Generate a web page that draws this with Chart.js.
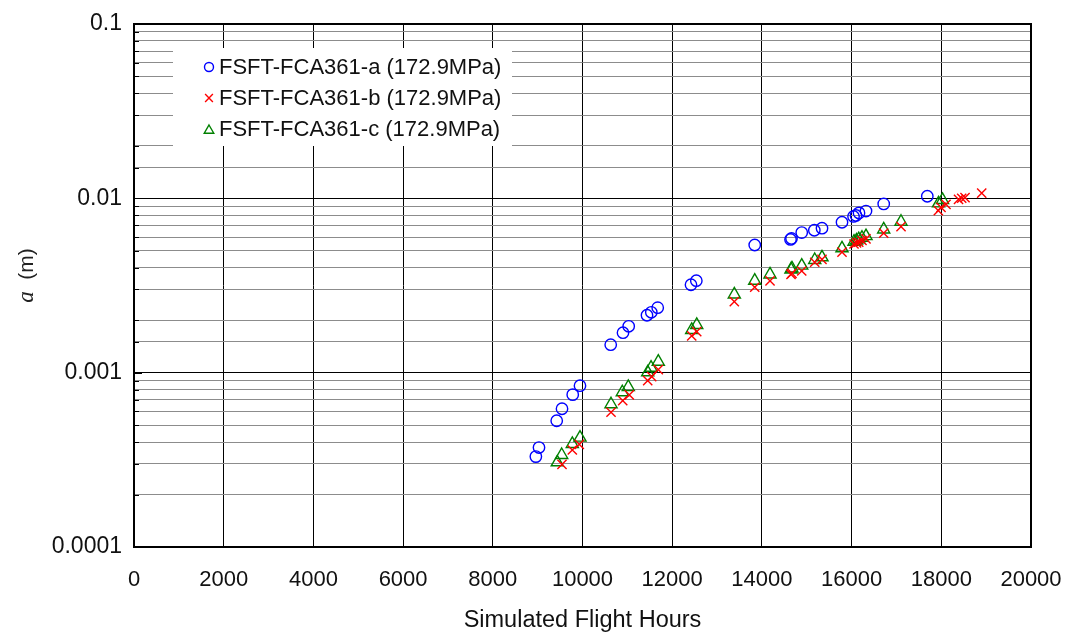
<!DOCTYPE html>
<html>
<head>
<meta charset="utf-8">
<script src="https://cdn.jsdelivr.net/npm/chart.js@4/dist/chart.umd.min.js"></script>
<style>
  html, body { margin: 0; padding: 0; background: #fff; }
  #wrap { width: 1066px; height: 635px; position: relative; }
</style>
</head>
<body>
<div id="wrap"><canvas id="c" width="1066" height="635"></canvas></div>
<script>
// ---- data ----
const seriesLabels = ['FSFT-FCA361-a (172.9MPa)', 'FSFT-FCA361-b (172.9MPa)', 'FSFT-FCA361-c (172.9MPa)'];

const hoursA = [8960, 9030, 9425, 9543, 9782, 9944, 10629, 10903, 11030, 11438, 11534, 11677,
  12419, 12538, 13840, 14638, 14660, 14888, 15169, 15340, 15786, 16043, 16098, 16165, 16321, 16716, 17688];
const crackA = [3.30e-4, 3.72e-4, 5.30e-4, 6.21e-4, 7.48e-4, 8.42e-4, 1.447e-3, 1.696e-3, 1.845e-3, 2.135e-3, 2.22e-3, 2.36e-3,
  3.194e-3, 3.37e-3, 5.40e-3, 5.81e-3, 5.89e-3, 6.36e-3, 6.56e-3, 6.74e-3, 7.29e-3, 7.87e-3, 7.98e-3, 8.25e-3, 8.45e-3, 9.29e-3, 1.028e-2];

const hoursB = [9543, 9773, 9929, 10636, 10897, 11044, 11454, 11543, 11690, 12435, 12547, 13385, 13840, 14181,
  14649, 14671, 14888, 15178, 15340, 15786, 16054, 16110, 16159, 16232, 16321, 16716, 17102,
  17934, 17994, 18105, 18384, 18455, 18529, 18901];
const crackB = [2.98e-4, 3.60e-4, 3.88e-4, 5.93e-4, 6.91e-4, 7.45e-4, 9.00e-4, 9.48e-4, 1.040e-3, 1.624e-3, 1.718e-3, 2.555e-3, 3.09e-3, 3.36e-3,
  3.66e-3, 3.71e-3, 3.83e-3, 4.30e-3, 4.47e-3, 4.91e-3, 5.47e-3, 5.55e-3, 5.60e-3, 5.73e-3, 5.85e-3, 6.31e-3, 6.88e-3,
  8.50e-3, 8.87e-3, 9.23e-3, 9.86e-3, 1.001e-2, 1.009e-2, 1.070e-2];

const hoursC = [9438, 9536, 9773, 9944, 10636, 10888, 11021, 11454, 11528, 11690, 12435, 12547, 13385, 13840, 14181,
  14649, 14671, 14888, 15178, 15340, 15786, 16054, 16110, 16159, 16232, 16321, 16716, 17102, 17938, 18027];
const crackC = [3.06e-4, 3.37e-4, 3.90e-4, 4.24e-4, 6.59e-4, 7.72e-4, 8.28e-4, 1.005e-3, 1.068e-3, 1.156e-3, 1.758e-3, 1.878e-3, 2.81e-3, 3.37e-3, 3.66e-3,
  3.91e-3, 3.96e-3, 4.11e-3, 4.43e-3, 4.59e-3, 5.17e-3, 5.64e-3, 5.73e-3, 5.83e-3, 5.94e-3, 6.07e-3, 6.63e-3, 7.34e-3, 9.35e-3, 9.79e-3];

const xTickLabels = ['0', '2000', '4000', '6000', '8000', '10000', '12000', '14000', '16000', '18000', '20000'];
const yTickValues = [0.0001, 0.001, 0.01, 0.1];
const yTickLabels = ['0.0001', '0.001', '0.01', '0.1'];
const xTitle = 'Simulated Flight Hours';

// ---- build ----
const FONT = "'Liberation Sans', Arial, sans-serif";
function pts(xs, ys) { return xs.map((x, i) => ({ x: x, y: ys[i] })); }
function isDecade(v) {
  const l = Math.log10(v);
  return Math.abs(l - Math.round(l)) < 1e-6;
}

const datasets = [
  { label: seriesLabels[0], data: pts(hoursA, crackA), pointStyle: 'circle', radius: 5.7,
    borderColor: '#0000ff', backgroundColor: 'rgba(0,0,0,0)', borderWidth: 1.4, legendRadius: 4.5 },
  { label: seriesLabels[1], data: pts(hoursB, crackB), pointStyle: 'crossRot', radius: 6.5,
    borderColor: '#ff0000', backgroundColor: 'rgba(0,0,0,0)', borderWidth: 1.4, legendRadius: 5.5 },
  { label: seriesLabels[2], data: pts(hoursC, crackC), pointStyle: 'triangle', radius: 7,
    borderColor: '#008000', backgroundColor: 'rgba(0,0,0,0)', borderWidth: 1.4, legendRadius: 5.5 }
].map(d => Object.assign(d, { showLine: false, pointRadius: d.radius, pointHoverRadius: d.radius,
  pointBorderWidth: d.borderWidth, pointBorderColor: d.borderColor, pointBackgroundColor: 'rgba(0,0,0,0)' }));

const framePlugin = {
  id: 'frame',
  afterDraw(chart) {
    const ctx = chart.ctx, a = chart.chartArea;
    const ys = chart.scales.y;
    ctx.save();
    ctx.strokeStyle = '#000';
    ctx.lineWidth = 1;
    ys.ticks.forEach(t => {
      const py = Math.round(ys.getPixelForValue(t.value)) + 0.5;
      const len = isDecade(t.value) ? 8 : 5;
      ctx.beginPath(); ctx.moveTo(a.left, py); ctx.lineTo(a.left + len, py); ctx.stroke();
    });
    ctx.lineWidth = 2;
    ctx.strokeRect(a.left, a.top, a.right - a.left, a.bottom - a.top);
    // y-axis title: italic serif "a" + " (m)"
    ctx.translate(27, (a.top + a.bottom) / 2 - 10);
    ctx.rotate(-Math.PI / 2);
    ctx.fillStyle = '#222';
    ctx.textBaseline = 'middle';
    const f1 = "italic 23px 'Liberation Serif', 'Times New Roman', serif";
    const f2 = "21px " + FONT;
    ctx.font = f1; const w1 = ctx.measureText('a').width;
    ctx.font = f2; const w2 = ctx.measureText('  (m)').width;
    let x0 = -(w1 + w2) / 2;
    ctx.font = f1; ctx.textAlign = 'left'; ctx.fillText('a', x0, 0);
    ctx.font = f2; ctx.fillText('  (m)', x0 + w1, 0);
    ctx.restore();
  },
  afterDatasetsDraw(chart) {
    const ctx = chart.ctx;
    ctx.save();
    ctx.fillStyle = '#fff';
    ctx.fillRect(173, 48, 339, 98);
    const rows = [67, 98, 129];
    chart.data.datasets.forEach((ds, i) => {
      const y = rows[i];
      ctx.lineWidth = 1.4;
      ctx.strokeStyle = ds.borderColor;
      ctx.fillStyle = 'rgba(0,0,0,0)';
      Chart.helpers.drawPoint(ctx, { pointStyle: ds.pointStyle, radius: ds.legendRadius, borderWidth: 1.4 }, 209, y + (ds.pointStyle === 'triangle' ? 1.5 : 0));
      ctx.fillStyle = '#111';
      ctx.font = "22px " + FONT;
      ctx.textAlign = 'left';
      ctx.textBaseline = 'middle';
      ctx.fillText(ds.label, 219, y + 1);
    });
    ctx.restore();
  }
};

new Chart(document.getElementById('c'), {
  type: 'scatter',
  data: { datasets: datasets },
  options: {
    responsive: false,
    animation: false,
    devicePixelRatio: 1,
    layout: { padding: { left: 0, right: 35, top: 24, bottom: 0 } },
    plugins: { legend: { display: false }, tooltip: { enabled: false } },
    scales: {
      x: {
        type: 'linear', min: 0, max: 20000,
        afterFit: s => { s.height = 88; s.paddingRight = 0; s.paddingLeft = 0; },
        ticks: { stepSize: 2000, padding: 20, color: '#111', font: { family: FONT, size: 22 },
          callback: (v, i) => xTickLabels[i] },
        grid: { color: '#000', lineWidth: 1, drawTicks: false },
        border: { display: false },
        title: { display: true, text: xTitle, color: '#111', font: { family: FONT, size: 23.5 }, padding: { top: 6, bottom: 0 } }
      },
      y: {
        type: 'logarithmic', min: 0.0001, max: 0.1,
        afterFit: s => { s.width = 134; s.paddingTop = 0; s.paddingBottom = 0; },
        ticks: { autoSkip: false, padding: 12, color: '#111', font: { family: FONT, size: 23 },
          callback: (v) => { const k = yTickValues.findIndex(t => Math.abs(t - v) / t < 1e-6); return k >= 0 ? yTickLabels[k] : ''; } },
        grid: { drawTicks: false, lineWidth: 1,
          color: c => isDecade(c.tick.value) ? '#000' : '#8c8c8c' },
        border: { display: false }
      }
    }
  },
  plugins: [framePlugin]
});
</script>
</body>
</html>
